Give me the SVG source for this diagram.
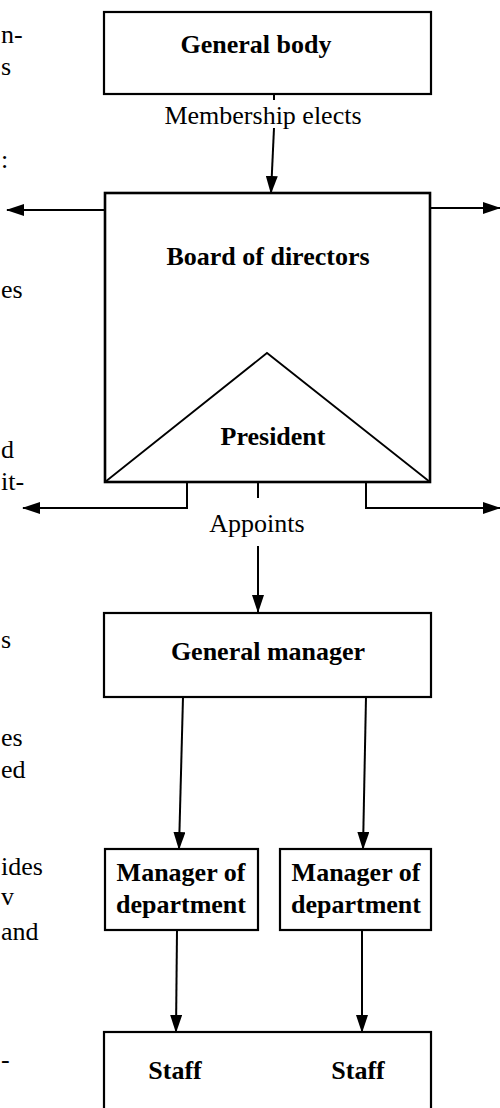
<svg xmlns="http://www.w3.org/2000/svg" width="500" height="1108" viewBox="0 0 500 1108">
<style>
.box{fill:none;stroke:#000;stroke-width:2.2}
.tri{fill:none;stroke:#000;stroke-width:1.8}
.b{font-family:"Liberation Serif","Times New Roman",serif;font-weight:bold;font-size:26px;fill:#000;text-anchor:middle}
.r{font-family:"Liberation Serif","Times New Roman",serif;font-size:26px;fill:#000}
.rc{text-anchor:middle}
.c{fill:none;stroke:#000;stroke-width:2}
</style>
<defs>
<marker id="ah" markerUnits="userSpaceOnUse" markerWidth="18" markerHeight="12" viewBox="0 0 18 12" refX="17" refY="6" orient="auto">
<path d="M0,0 L18,6 L0,12 Z" fill="#000"/>
</marker>
</defs>
<rect width="500" height="1108" fill="#fff"/>

<g id="margin-text">
<text class="r" x="1" y="43">n-</text>
<text class="r" x="1" y="75">s</text>
<text class="r" x="1" y="168">:</text>
<text class="r" x="1" y="298">es</text>
<text class="r" x="1" y="458">d</text>
<text class="r" x="1" y="490">it-</text>
<text class="r" x="1" y="648">s</text>
<text class="r" x="1" y="746">es</text>
<text class="r" x="1" y="778">ed</text>
<text class="r" x="1" y="875">ides</text>
<text class="r" x="1" y="905">v</text>
<text class="r" x="1" y="940">and</text>
<text class="r" x="1" y="1068">-</text>
</g>

<g id="general-body">
<rect class="box" x="104" y="12" width="327" height="82"/>
<text class="b" x="256" y="53">General body</text>
</g>

<g id="board-of-directors">
<rect class="box" x="105" y="193" width="325" height="289" style="stroke-width:2.6"/>
<text class="b" x="268" y="265">Board of directors</text>
</g>

<g id="president">
<polyline class="tri" points="105,482 267,353 430,482"/>
<text class="b" x="273" y="445">President</text>
</g>

<g id="general-manager">
<rect class="box" x="104" y="613" width="327" height="84"/>
<text class="b" x="268" y="660">General manager</text>
</g>

<g id="manager-dept-1">
<rect class="box" x="105" y="849" width="153" height="81"/>
<text class="b" x="181" y="881">Manager of</text>
<text class="b" x="181" y="913">department</text>
</g>

<g id="manager-dept-2">
<rect class="box" x="280" y="849" width="151" height="81"/>
<text class="b" x="356" y="881">Manager of</text>
<text class="b" x="356" y="913">department</text>
</g>

<g id="staff">
<rect class="box" x="104" y="1032" width="327" height="90"/>
<text class="b" x="175" y="1079">Staff</text>
<text class="b" x="358" y="1079">Staff</text>
</g>

<g id="connectors">
<line class="c" x1="274" y1="94" x2="274" y2="100"/>
<line class="c" x1="274" y1="128" x2="271" y2="193" marker-end="url(#ah)"/>
<text class="r rc" x="263" y="124">Membership elects</text>

<line class="c" x1="105" y1="210" x2="7" y2="210" marker-end="url(#ah)"/>
<line class="c" x1="430" y1="208" x2="500" y2="208" marker-end="url(#ah)"/>

<polyline class="c" points="187,482 187,508 23,508" marker-end="url(#ah)"/>
<polyline class="c" points="366,482 366,508 500,508" marker-end="url(#ah)"/>

<line class="c" x1="258" y1="482" x2="258" y2="498"/>
<text class="r rc" x="257" y="532">Appoints</text>
<line class="c" x1="258" y1="546" x2="258" y2="612" marker-end="url(#ah)"/>

<line class="c" x1="183" y1="697" x2="179" y2="849" marker-end="url(#ah)"/>
<line class="c" x1="366" y1="697" x2="363" y2="849" marker-end="url(#ah)"/>

<line class="c" x1="177" y1="930" x2="176" y2="1032" marker-end="url(#ah)"/>
<line class="c" x1="362" y1="930" x2="362" y2="1032" marker-end="url(#ah)"/>
</g>
</svg>
